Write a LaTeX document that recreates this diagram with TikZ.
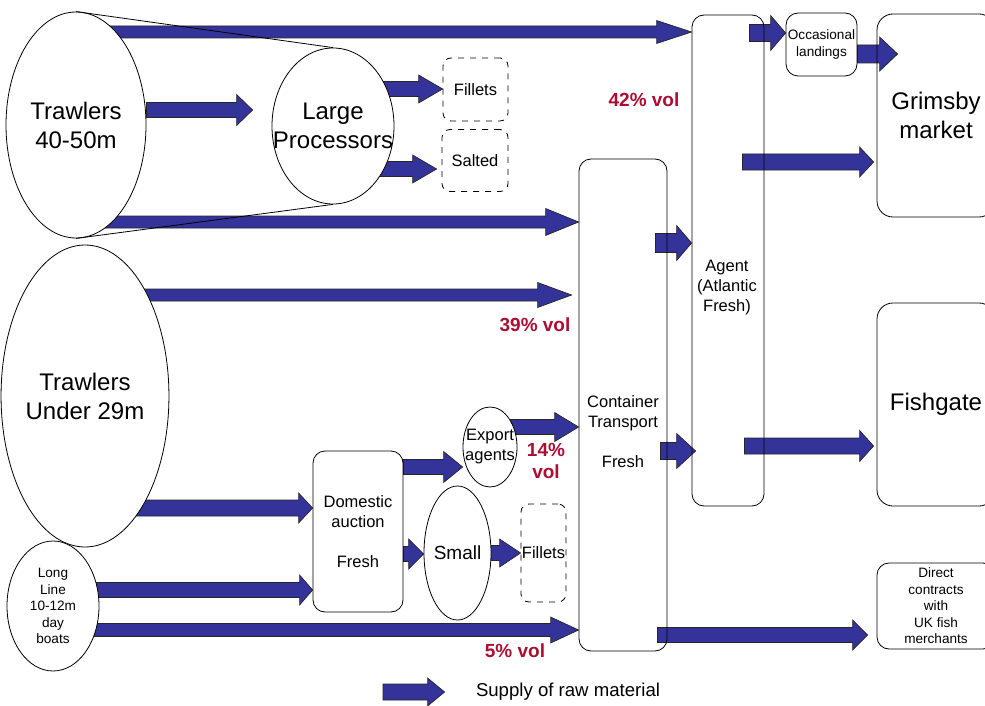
\documentclass[tikz,border=0pt]{standalone}
\usepackage{fontspec}
\setmainfont{Liberation Sans}
\usepackage{xcolor}
\usepackage{tikz}
\usetikzlibrary{calc,shapes.geometric,positioning}

\definecolor{supplyblue}{RGB}{51,51,153}
\definecolor{volred}{RGB}{170,14,50}

\pgfdeclarelayer{bg}
\pgfsetlayers{bg,main}

\tikzset{
  supply/.style={fill=supplyblue, draw=black!85, line width=0.35pt},
  oval/.style={ellipse, draw, fill=white, inner sep=0pt, align=center},
  box/.style={draw, rounded corners=6pt, inner sep=0pt, align=center},
  dashbox/.style={draw, dashed, rounded corners=4pt, inner sep=0pt, align=center},
  bigtxt/.style={font=\fontsize{12}{14.5}\selectfont, align=center},
  midtxt/.style={font=\fontsize{8.25}{10}\selectfont, align=center},
  smalltxt/.style={font=\fontsize{6.8}{8.25}\selectfont, align=center},
  vol/.style={font=\fontsize{9.5}{11}\selectfont\bfseries, text=volred, align=center}
}

% y, from, to, shaft width, head width, head length (px)
\newcommand{\fatarrow}[6]{%
  \filldraw[supply] let \p1=(#2), \p2=(#3), \p3=(0,#1) in
    (\x1,\y3+#4*0.25pt) -- (\x2-#6*0.5pt,\y3+#4*0.25pt) -- (\x2-#6*0.5pt,\y3+#5*0.25pt)
    -- (\x2,\y3) -- (\x2-#6*0.5pt,\y3-#5*0.25pt) -- (\x2-#6*0.5pt,\y3-#4*0.25pt)
    -- (\x1,\y3-#4*0.25pt) -- cycle;}

\begin{document}
\begin{tikzpicture}[x=0.5pt,y=-0.5pt]
\clip (0,0) rectangle (985,706);
\useasboundingbox (0,0) rectangle (985,706);

% sources
\node[oval, bigtxt, minimum width=70pt, minimum height=113pt] (t1) at (76,125) {Trawlers\\40-50m};
\node[oval, minimum width=61pt, minimum height=78pt,
  label={[bigtxt]center:{Large\\Processors}}] (lp) at (333,126) {};
\node[oval, bigtxt, minimum width=78.5pt, minimum height=151pt] (t29) at (85,396) {Trawlers\\Under 29m};
\node[oval, smalltxt, minimum width=46pt, minimum height=65pt] (ll) at (53,606) {Long\\Line\\10-12m\\day\\boats};
\node[oval, minimum width=27pt, minimum height=40pt,
  label={[midtxt]center:{Export\\agents}}] (exp) at (490,447) {};
\node[oval, minimum width=33.5pt, minimum height=67pt,
  label={[font=\fontsize{9.5}{11}\selectfont]center:Small}] (small) at (457.5,553) {};

\draw (t1.north) -- (lp.north);
\draw (t1.south) -- (lp.south);

% products
\node[dashbox, midtxt, minimum width=32.5pt, minimum height=31.5pt] (fil1) at (475.5,89.5) {Fillets};
\node[dashbox, midtxt, minimum width=33pt, minimum height=31pt] (sal) at (475,160.5) {Salted};
\node[dashbox, minimum width=22.5pt, minimum height=49pt,
  label={[midtxt]center:Fillets}] (fil2) at (543.5,553) {};

% boxes
\node[box, midtxt, minimum width=45pt, minimum height=80.5pt] (dom) at (358,531.5) {Domestic\\auction\\[10pt]Fresh};
\node[box, minimum width=44pt, minimum height=246pt] (cont) at (623,405) {};
\node[midtxt] (conttext) at (623,432) {Container\\Transport\\[10pt]Fresh};
\node[box, minimum width=36pt, minimum height=245.5pt] (agent) at (728,260.5) {};
\node[midtxt] (agenttext) at (727,288) {Agent\\(Atlantic\\Fresh)};
\node[box, smalltxt, minimum width=35.5pt, minimum height=31.5pt] (occ) at (821.5,44.5) {Occasional\\landings};
\node[box, bigtxt, rounded corners=8pt, minimum width=59pt, minimum height=101.5pt] (grim) at (936,115.5) {Grimsby\\market};
\node[box, bigtxt, rounded corners=8pt, minimum width=59pt, minimum height=101.5pt] (fish) at (936,404.5) {Fishgate};
\node[box, smalltxt, minimum width=59pt, minimum height=43pt] (direct) at (936,606) {Direct\\contracts\\with\\UK fish\\merchants};

% volumes
\node[vol] (v42) at (644,100) {42\% vol};
\node[vol] (v39) at (535,325) {39\% vol};
\node[vol] (v14) at (546,461) {14\%\\vol};
\node[vol] (v5) at (515,651) {5\% vol};

% key
\coordinate (key) at (383,692);
\node[font=\fontsize{9.3}{11}\selectfont, inner sep=0pt] (keytext) at (568,692) {Supply of raw material};

\begin{pgfonlayer}{bg}
\fatarrow{32}{t1.center}{agent.west}{12}{23}{35}
\fatarrow{110}{t1.east}{$(lp.west)+(-19,0)$}{15}{31}{16}
\fatarrow{89}{lp.center}{fil1.west}{15}{28}{24}
\fatarrow{169}{lp.center}{$(sal.west)+(-5,0)$}{15}{28}{24}
\fatarrow{222}{t1.center}{cont.west}{12}{27}{33}
\fatarrow{295}{t29.center}{$(cont.west)+(-7,0)$}{12}{25}{34}
\fatarrow{508}{t29.center}{dom.west}{16}{30}{14}
\fatarrow{590}{ll.center}{dom.west}{15}{30}{13}
\fatarrow{630}{ll.center}{cont.west}{13}{26}{28}
\fatarrow{467}{dom.east}{exp.west}{15}{31}{19}
\fatarrow{427}{exp.center}{cont.west}{15}{29}{24}
\fatarrow{554}{dom.east}{small.west}{15}{30}{15}
\fatarrow{553}{small.center}{fil2.west}{15}{28}{21}
\fatarrow{243}{$(cont.east)+(-12,0)$}{agent.west}{19}{35}{15}
\fatarrow{451}{$(cont.east)+(-7,0)$}{$(agent.west)+(4,0)$}{17}{35}{19}
\fatarrow{635}{$(cont.east)+(-10,0)$}{$(direct.west)+(-9,0)$}{15}{30}{15}
\fatarrow{33}{$(agent.east)+(-15,0)$}{occ.west}{17}{35}{15}
\fatarrow{54}{occ.east}{$(grim.west)+(21,0)$}{18}{34}{18}
\fatarrow{162}{$(agent.east)+(-22,0)$}{$(grim.west)+(-3,0)$}{16}{30}{14}
\fatarrow{446}{$(agent.east)+(-20,0)$}{$(fish.west)+(-3,0)$}{16}{31}{14}
\fatarrow{692}{key}{$(keytext.west)+(-31,0)$}{16}{28}{17}
\end{pgfonlayer}

\end{tikzpicture}
\end{document}
